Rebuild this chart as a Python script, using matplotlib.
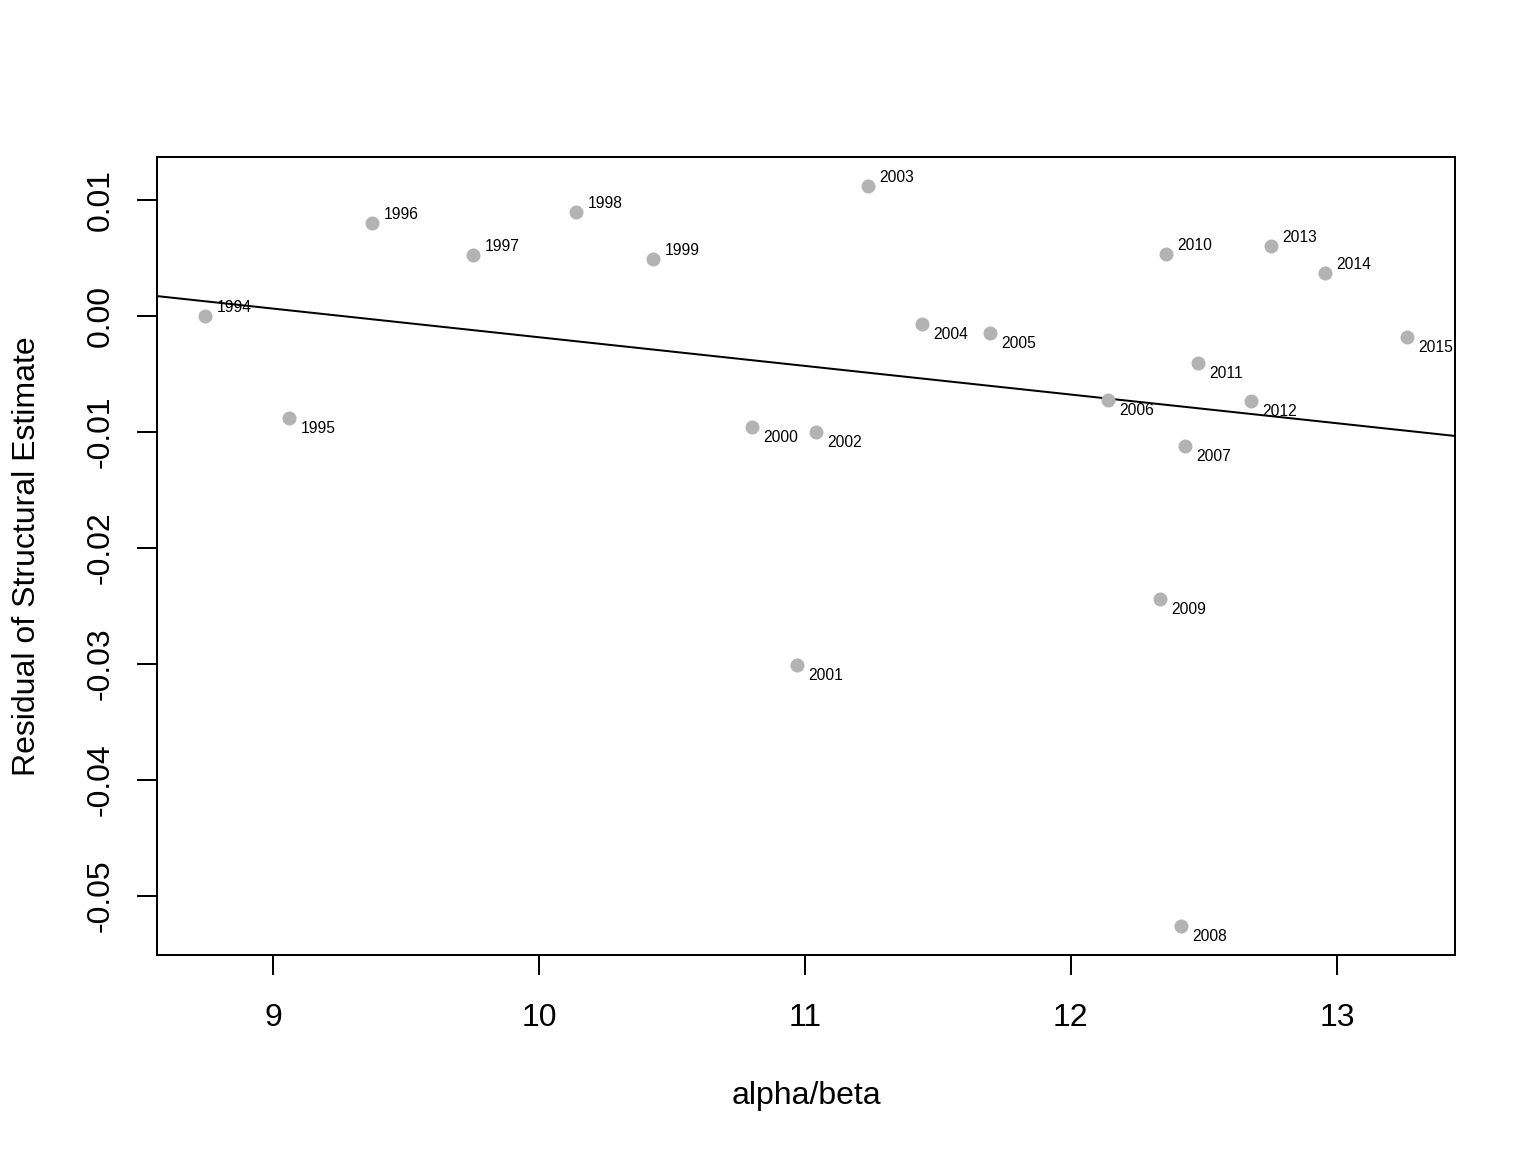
import matplotlib

matplotlib.use("Agg")
import matplotlib.pyplot as plt

plt.rcParams["font.family"] = ["Liberation Sans", "DejaVu Sans"]

# ── Data ─────────────────────────────────────────────────────────
years = [1994, 1995, 1996, 1997, 1998, 1999, 2000, 2001, 2002, 2003, 2004,
         2005, 2006, 2007, 2008, 2009, 2010, 2011, 2012, 2013, 2014, 2015]
alpha_beta = [8.744, 9.060, 9.372, 9.752, 10.139, 10.429, 10.801, 10.970,
              11.041, 11.237, 11.440, 11.695, 12.139, 12.429, 12.414, 12.335,
              12.357, 12.477, 12.677, 12.752, 12.955, 13.263]
residual = [0.0000, -0.00879, 0.00802, 0.00526, 0.00897, 0.00491, -0.00957,
            -0.03009, -0.01000, 0.01121, -0.00069, -0.00147, -0.00724,
            -0.01121, -0.05259, -0.02440, 0.00534, -0.00405, -0.00733,
            0.00603, 0.00371, -0.00181]

# fitted line (intercept, slope)
fit_intercept = 0.02288
fit_slope = -0.002471

x_ticks = [9, 10, 11, 12, 13]
y_ticks = [0.01, 0.00, -0.01, -0.02, -0.03, -0.04, -0.05]

# ── Figure ───────────────────────────────────────────────────────
fig = plt.figure(figsize=(1536 / 144, 1152 / 144), dpi=144)
ax = fig.add_axes([157 / 1536, 1 - 955 / 1152, (1455 - 157) / 1536, (955 - 157) / 1152])

ax.plot(alpha_beta, residual, "o", color="#b3b3b3", markersize=7, markeredgewidth=0, zorder=3)
ax.axline((0, fit_intercept), slope=fit_slope, color="black", linewidth=1.0, zorder=2)

for yr, x, y in zip(years, alpha_beta, residual):
    dy = 4.2 if y >= 0 else -5.3
    ax.annotate(str(yr), (x, y), xytext=(5.8, dy), textcoords="offset points",
                fontsize=7.8, va="center", ha="left", zorder=4)

ax.set_xlim(8.564, 13.444)
ax.set_ylim(-0.05509, 0.01371)

ax.set_xticks(x_ticks)
ax.set_xticklabels([str(t) for t in x_ticks])
ax.set_yticks(y_ticks)
ax.set_yticklabels([f"{t:.2f}" for t in y_ticks])

for s in ax.spines.values():
    s.set_linewidth(1.0)

ax.tick_params(length=10, width=1.0, labelsize=16)
ax.tick_params(axis="x", pad=14)
ax.tick_params(axis="y", pad=10.5, labelrotation=90)
for lbl in ax.get_yticklabels():
    lbl.set_va("center")

ax.set_xlabel("alpha/beta", fontsize=16, labelpad=24)
ax.set_ylabel("Residual of Structural Estimate", fontsize=16, labelpad=22)

fig.savefig("out.png", dpi=144)
